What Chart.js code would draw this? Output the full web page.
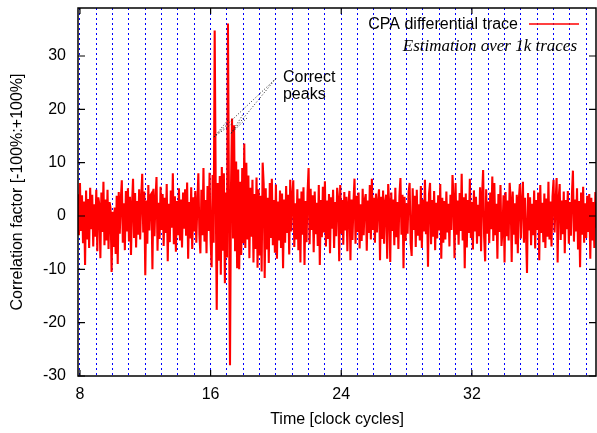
<!DOCTYPE html>
<html>
<head>
<meta charset="utf-8">
<script src="https://cdn.jsdelivr.net/npm/chart.js@4.4.1/dist/chart.umd.min.js"></script>
<style>
  body { margin: 0; background: #fff; }
  #wrap { width: 597px; height: 433px; position: relative; }
</style>
</head>
<body>
<div id="wrap"><canvas id="cpaChart"></canvas></div>
<script>
// CPA correlation trace (%), 16 samples per clock cycle from cycle 7.875
const firstCycle = 7.875;
const cycleStep = 0.0625;
const correlation = [
  4.1, -3.6, 6.2, -2.8, 3.9, -5.1, 2.7, -9.2, 4.8, -4.4, 3.2, -6.0, 5.3, -2.5, 4.0, -5.7, 2.2, -3.9, 4.9, -6.6,
  3.5, 2.1, -7.9, 4.4, -3.0, 6.4, -5.5, 3.1, -4.6, 4.9, -6.2, 2.6, 1.4, -10.5, 0.8, -5.8, 1.6, -7.1, 3.8, -9.0,
  4.5, -3.3, 3.0, 6.7, -5.0, 2.4, -6.4, 4.7, -2.9, 5.2, -4.8, 3.6, -7.3, 2.0, 7.0, -4.1, 4.3, -5.9, 2.8, -3.5,
  5.0, -4.4, 3.3, 7.9, -3.1, 4.6, -11.1, 2.9, -5.2, 5.8, -2.7, 3.9, 4.2, -10.0, 5.1, -3.8, 3.0, 7.3, -6.5, 2.5,
  -4.3, 5.5, -2.6, 4.1, -5.6, 3.4, -3.2, 6.0, -8.5, 2.3, -4.9, 4.8, -2.2, 8.0, -5.3, 3.7, -6.7, 2.8, -3.6, 5.2,
  -4.6, 3.1, -5.9, 4.4, -2.4, 5.0, -3.7, 6.3, -8.0, 2.6, -4.2, 5.4, -6.2, 3.5, -2.9, 4.7, -5.0, 2.2, 8.0, -3.4,
  -7.0, 4.9, -3.6, 9.0, -4.8, 3.0, -7.0, 5.6, -2.8, 8.1, -4.5, -9.6, 7.7, -5.0, 34.8, 5.0, -17.6, 6.2, -8.4, 7.5,
  -11.0, 9.2, -6.5, 8.0, -12.6, 4.4, -7.8, 36.1, 2.0, -28.0, 5.5, 18.3, -4.2, 17.0, -6.6, 10.2, -9.8, 8.7, -10.0, 6.4,
  -7.3, 9.0, -5.1, 13.6, -6.0, 10.0, -4.4, 7.6, -7.9, 5.3, -3.9, 6.8, -8.7, 4.1, -6.2, 7.2, -9.7, 5.0, -7.4, 3.8,
  -10.4, 10.0, 6.0, -11.6, 5.2, -6.3, 3.4, -8.8, 6.2, -4.1, 7.0, -5.5, 3.0, -6.9, 5.9, -8.0, 2.7, -4.6, 4.8, -6.0,
  4.2, -9.8, 3.1, -5.0, 5.6, -3.2, 4.0, -7.2, 6.8, -2.9, 3.7, 6.7, -5.8, 2.4, -4.4, 5.0, -6.4, 3.3, -8.7, 4.6,
  -3.5, 5.4, -9.2, 2.8, -4.9, 4.3, 9.0, -5.3, 5.1, -2.6, 3.9, -6.8, 4.6, -3.4, 2.5, -5.6, 5.8, -9.2, 3.0, -4.0,
  5.5, -3.1, 6.5, -5.7, 2.9, -4.3, 4.1, -7.0, 3.5, -2.4, 4.9, -6.0, 2.6, -3.8, 5.3, 3.2, -8.5, 5.8, -3.3, 3.0,
  -5.4, 4.5, -2.7, 3.6, -6.6, 2.3, 4.7, -8.3, 3.1, -4.5, 2.6, 7.0, -5.2, 3.8, -3.0, 4.4, -6.1, 2.2, -4.7, 5.1,
  -3.6, 3.0, 4.1, -6.5, 2.9, -3.2, 5.8, -4.4, 7.0, -2.6, 3.4, -5.0, 4.2, -3.1, 2.7, 5.0, -8.3, 3.6, -4.3, 4.8,
  -5.2, 2.5, 4.0, -8.0, 6.0, 2.2, -8.6, 4.4, -2.8, 3.1, -5.5, 5.3, -4.0, 2.6, -6.2, 3.7, 7.1, -3.5, 4.0, -9.8,
  3.6, -4.7, 2.4, -3.3, 4.5, 6.2, -5.1, -7.5, 5.2, -2.6, 3.8, -5.8, 4.9, -3.7, 2.2, -4.6, 5.6, -6.0, 3.1, -2.9,
  6.8, -3.4, 2.7, -9.5, 4.1, 6.2, -5.3, 3.0, -3.9, 4.7, -6.4, 2.5, -4.2, 3.9, -2.7, 6.0, -8.0, 3.4, -5.0, 2.8,
  -4.4, 4.6, -3.1, 2.3, -5.7, 4.0, -2.6, 7.7, 3.3, -7.9, 6.2, -3.5, 2.9, -5.4, 4.3, -2.8, 7.9, -4.6, 3.5, -9.8,
  4.2, -5.9, 3.0, -3.2, 7.0, -4.1, 2.6, -6.3, 4.8, -2.9, 3.6, -5.2, 2.1, -3.8, 5.4, -6.6, 3.9, 8.6, -4.0, -8.5,
  5.0, -3.3, 2.7, -5.1, 4.4, -2.5, 7.4, -4.7, 6.2, -3.6, 2.3, -8.0, 4.1, -3.0, 5.8, -5.6, -2.6, 3.9, -8.7, 4.5,
  -3.8, 2.9, -4.6, 6.2, 3.0, -8.6, 4.6, -3.5, 2.4, -5.3, 4.0, -7.0, 3.1, 6.0, -4.2, 2.6, 6.4, -5.0, 3.4, -3.0,
  -10.7, 4.3, -2.7, 3.5, -5.5, 2.3, -3.6, 4.8, -6.1, 3.0, -2.6, 4.4, -8.3, 5.8, -3.2, 2.5, -4.9, 4.2, -6.0, 3.3,
  -3.9, 6.4, -4.4, 2.7, -5.7, 3.6, 6.8, -3.1, 2.4, 7.1, -8.7, 3.2, 6.0, -4.5, 2.9, -3.4, 4.6, -7.0, 3.0, -2.5,
  4.7, -5.2, 2.6, -3.7, 4.0, 8.5, -4.8, 3.1, -2.9, 5.2, -6.3, 2.8, -9.6, 4.4, -3.5, 5.5, -5.0, 2.4, -4.1, 3.8,
  -3.0, 4.1, -8.0, 3.4, -4.6, 2.6, -6.0, 4.5, -2.2
];

const xTickLabels = [8, 16, 24, 32];
const yTickValues = [-30, -20, -10, 0, 10, 20, 30];
const cycleMarks = [];           // one dashed line per clock cycle
for (let c = 8; c <= 39; c++) cycleMarks.push(c);

const traceLabel = 'CPA differential trace';
const traceNote = 'Estimation over 1k traces';
const peakText = ['Correct', 'peaks'];
// annotation anchor and arrow ends in (cycle, %) units
const peakTextAt = { x: 20.43, y: 25.9 };
const arrowFrom = { x: 20.0, y: 25.8 };
const arrowTo = [{ x: 16.2, y: 14.8 }, { x: 17.25, y: 15.5 }];

const sans = "'Liberation Sans', Arial, Helvetica, sans-serif";

const points = correlation.map((v, i) => ({ x: firstCycle + i * cycleStep, y: v }));

function dottedArrow(ctx, x0, y0, x1, y1) {
  const ang = Math.atan2(y1 - y0, x1 - x0);
  const head = 24, spread = 0.12;
  ctx.beginPath();
  ctx.moveTo(x0, y0);
  ctx.lineTo(x1, y1);
  ctx.moveTo(x1, y1);
  ctx.lineTo(x1 - head * Math.cos(ang - spread), y1 - head * Math.sin(ang - spread));
  ctx.moveTo(x1, y1);
  ctx.lineTo(x1 - head * Math.cos(ang + spread), y1 - head * Math.sin(ang + spread));
  ctx.stroke();
}

const gnuplotFrame = {
  id: 'gnuplotFrame',
  afterDatasetsDraw(chart) {
    const { ctx, chartArea: a, scales: { x, y } } = chart;
    ctx.save();

    // border box with inward ticks on all four sides
    ctx.strokeStyle = '#000';
    ctx.lineWidth = 1.5;
    ctx.strokeRect(a.left, a.top, a.right - a.left, a.bottom - a.top);
    ctx.lineWidth = 1.2;
    ctx.beginPath();
    xTickLabels.forEach(v => {
      const px = x.getPixelForValue(v);
      ctx.moveTo(px, a.bottom); ctx.lineTo(px, a.bottom - 6);
      ctx.moveTo(px, a.top); ctx.lineTo(px, a.top + 6);
    });
    yTickValues.forEach(v => {
      const py = y.getPixelForValue(v);
      ctx.moveTo(a.left, py); ctx.lineTo(a.left + 7, py);
      ctx.moveTo(a.right, py); ctx.lineTo(a.right - 7, py);
    });
    ctx.stroke();

    // key, top right
    ctx.fillStyle = '#000';
    ctx.textBaseline = 'middle';
    ctx.textAlign = 'right';
    ctx.font = '16px ' + sans;
    ctx.fillText(traceLabel, a.right - 78, a.top + 17);
    ctx.strokeStyle = '#ff0000';
    ctx.lineWidth = 1.5;
    ctx.beginPath();
    ctx.moveTo(a.right - 67, a.top + 16);
    ctx.lineTo(a.right - 17, a.top + 16);
    ctx.stroke();
    ctx.font = "italic 17px 'Liberation Serif', 'Times New Roman', serif";
    ctx.fillText(traceNote, a.right - 19, a.top + 39);

    // peak annotation
    ctx.textAlign = 'left';
    ctx.font = '16px ' + sans;
    const tx = x.getPixelForValue(peakTextAt.x);
    const ty = y.getPixelForValue(peakTextAt.y);
    ctx.fillText(peakText[0], tx, ty);
    ctx.fillText(peakText[1], tx, ty + 17);

    ctx.strokeStyle = '#222';
    ctx.lineWidth = 1;
    ctx.setLineDash([1, 2]);
    const fx = x.getPixelForValue(arrowFrom.x), fy = y.getPixelForValue(arrowFrom.y);
    arrowTo.forEach(p => dottedArrow(ctx, fx, fy, x.getPixelForValue(p.x), y.getPixelForValue(p.y)));
    ctx.restore();
  }
};

new Chart(document.getElementById('cpaChart'), {
  type: 'line',
  data: {
    datasets: [{
      label: traceLabel,
      data: points,
      borderColor: '#ff0000',
      borderWidth: 2.1,
      pointRadius: 0,
      fill: false,
      tension: 0
    }]
  },
  options: {
    responsive: true,
    maintainAspectRatio: false,
    animation: false,
    layout: { padding: { top: 8, right: 1, left: 0, bottom: 0 } },
    plugins: {
      legend: { display: false },
      tooltip: { enabled: false }
    },
    scales: {
      x: {
        type: 'linear',
        min: 7.88,
        max: 39.6,
        afterBuildTicks: s => { s.ticks = cycleMarks.map(v => ({ value: v })); },
        afterFit: s => { s.height = 57; s.paddingLeft = 0; s.paddingRight = 0; },
        grid: { color: '#0000ff', lineWidth: 1, drawTicks: false },
        border: { display: false, dash: [2, 3] },
        ticks: {
          autoSkip: false,
          maxRotation: 0,
          padding: 9,
          color: '#000',
          font: { family: sans, size: 16 },
          callback: v => xTickLabels.includes(v) ? String(v) : ''
        },
        title: {
          display: true,
          text: 'Time [clock cycles]',
          color: '#000',
          font: { family: sans, size: 16 },
          padding: { top: 0, bottom: 4 }
        }
      },
      y: {
        min: -30,
        max: 39,
        afterBuildTicks: s => { s.ticks = yTickValues.map(v => ({ value: v })); },
        afterFit: s => { s.width = 78; s.paddingTop = 0; s.paddingBottom = 0; },
        grid: { display: false, drawTicks: false },
        border: { display: false },
        ticks: {
          padding: 12,
          color: '#000',
          font: { family: sans, size: 16 }
        },
        title: {
          display: true,
          text: 'Correlation factor [-100%:+100%]',
          color: '#000',
          font: { family: sans, size: 16 },
          padding: { top: 8, bottom: 0 }
        }
      }
    }
  },
  plugins: [gnuplotFrame]
});
</script>
</body>
</html>
